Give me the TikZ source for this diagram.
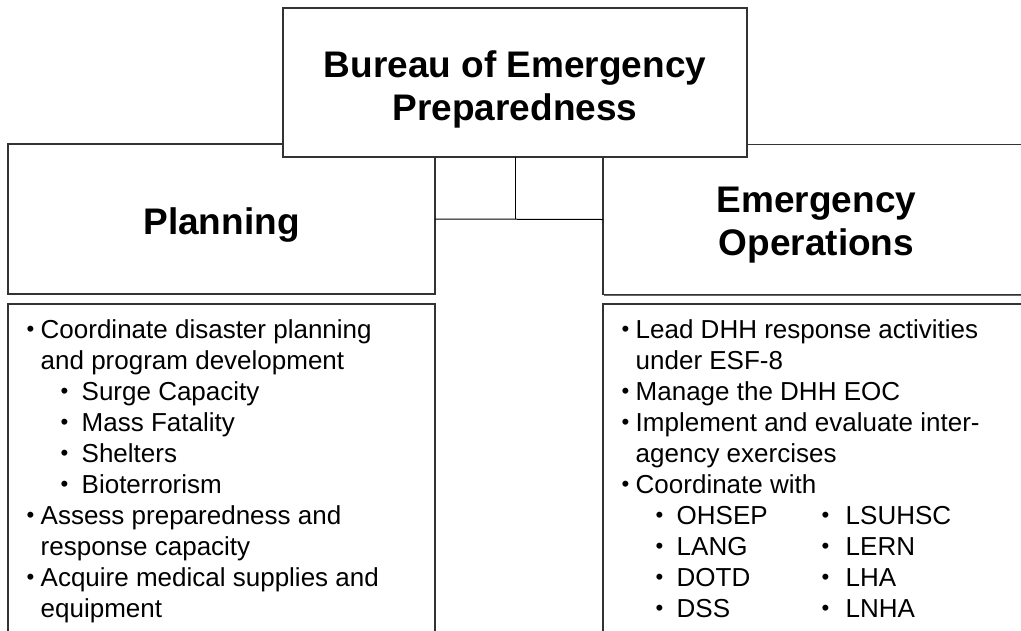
\documentclass[tikz,border=0pt]{standalone}
\usepackage{fontspec}
\setmainfont{Liberation Sans}
\usetikzlibrary{shadows}

% bullet lines of the two lists
\newcommand{\pdot}{\raisebox{0.05em}{\scalebox{0.85}{\textbullet}}}
\newcommand{\pitem}[1]{\makebox[14pt][l]{\pdot}#1}
\newcommand{\pcont}[1]{\hspace*{14pt}#1}
\newcommand{\psub}[1]{\hspace*{34pt}\makebox[21pt][l]{\pdot}#1}
\newcommand{\pcols}[2]{\hspace*{34pt}\makebox[166pt][l]{\makebox[21pt][l]{\pdot}#1}\makebox[24pt][l]{\pdot}#2}

\begin{document}
\begin{tikzpicture}[x=1pt,y=-1pt,
  box/.style={draw=black!80,line width=1.3pt,fill=white,inner sep=0pt,outer sep=0pt,
    drop shadow={shadow xshift=1.2pt,shadow yshift=-1.2pt,opacity=1,fill=black!60}},
  head/.style={font=\fontsize{37}{43}\selectfont\bfseries,align=center,inner sep=0pt},
  body/.style={font=\fontsize{26}{31}\selectfont,align=left,inner sep=0pt,anchor=north west},
  link/.style={draw=black,line width=1pt}]
\useasboundingbox (0,0) rectangle (1021,630);
\clip (0,0) rectangle (1021,630);
\fill[white] (0,0) rectangle (1021,630);

% division boxes
\node[box,minimum width=427pt,minimum height=150pt] (planning) at (221.5,219) {};
\node[box,minimum width=427pt,minimum height=150pt] (operations) at (816.5,219.5) {};
\node[box,minimum width=464pt,minimum height=149pt] (bureau) at (515,82.5) {};
\node[head,anchor=north] (bureau-t) at (515,50.2) {Bureau of Emergency\\Preparedness};
\node[head,anchor=base] (planning-t) at (221.5,234) {Planning};
\node[head,anchor=north] (operations-t) at (816.5,186.5) {Emergency\\Operations};

% task lists
\node[box,minimum width=427pt,minimum height=356pt] (planlist) at (221.5,482) {};
\node[box,minimum width=427pt,minimum height=356pt] (opslist) at (816.5,482) {};
\node[body] (planlist-t) at (26.5,319.2) {%
  \pitem{Coordinate disaster planning}\\
  \pcont{and program development}\\
  \psub{Surge Capacity}\\
  \psub{Mass Fatality}\\
  \psub{Shelters}\\
  \psub{Bioterrorism}\\
  \pitem{Assess preparedness and}\\
  \pcont{response capacity}\\
  \pitem{Acquire medical supplies and}\\
  \pcont{equipment}};
\node[body] (opslist-t) at (621.5,319.2) {%
  \pitem{Lead DHH response activities}\\
  \pcont{under ESF-8}\\
  \pitem{Manage the DHH EOC}\\
  \pitem{Implement and evaluate inter-}\\
  \pcont{agency exercises}\\
  \pitem{Coordinate with}\\
  \pcols{OHSEP}{LSUHSC}\\
  \pcols{LANG}{LERN}\\
  \pcols{DOTD}{LHA}\\
  \pcols{DSS}{LNHA}};

% connectors
\draw[link] (planning.east) -- (operations.west);
\draw[link] (bureau.south) -- (bureau.south |- planning.east);
\end{tikzpicture}
\end{document}
